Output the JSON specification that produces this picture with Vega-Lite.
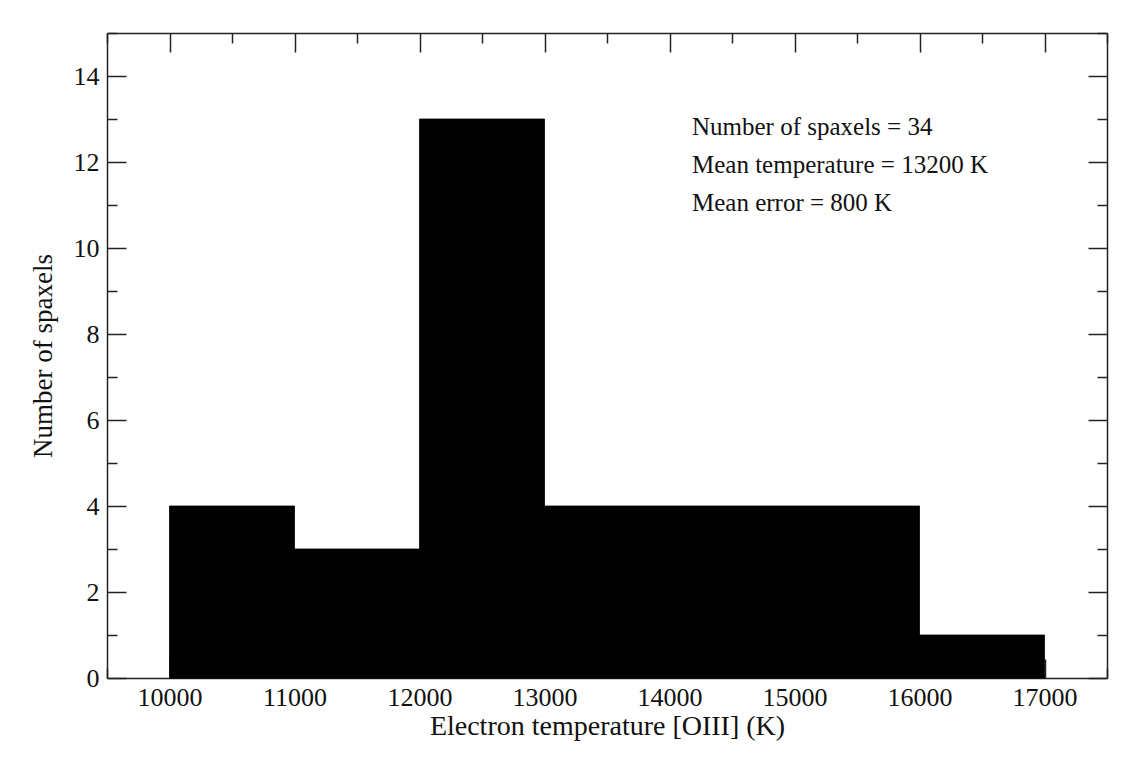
{
  "$schema": "https://vega.github.io/schema/vega-lite/v6.json",
  "width": 1000,
  "height": 645,
  "autosize": {"type": "none"},
  "padding": {"left": 107, "top": 33, "right": 22, "bottom": 90},
  "background": "white",
  "config": {
    "view": {"stroke": null},
    "font": "Liberation Serif",
    "axis": {
      "domainColor": "#222",
      "domainWidth": 1.5,
      "tickColor": "#222",
      "tickWidth": 1.5,
      "labelColor": "#111",
      "labelFont": "Liberation Serif",
      "labelFontSize": 26,
      "titleColor": "#111",
      "titleFont": "Liberation Serif",
      "titleFontSize": 28,
      "titleFontWeight": "normal",
      "grid": false
    }
  },
  "data": {
    "values": [
      {"t_lo": 10000, "t_hi": 11000, "count": 4},
      {"t_lo": 11000, "t_hi": 12000, "count": 3},
      {"t_lo": 12000, "t_hi": 13000, "count": 13},
      {"t_lo": 13000, "t_hi": 14000, "count": 4},
      {"t_lo": 14000, "t_hi": 15000, "count": 4},
      {"t_lo": 15000, "t_hi": 16000, "count": 4},
      {"t_lo": 16000, "t_hi": 17000, "count": 1}
    ]
  },
  "layer": [
    {
      "mark": {"type": "rect", "fill": "black", "stroke": "black", "strokeWidth": 0.8},
      "encoding": {
        "x": {
          "field": "t_lo",
          "type": "quantitative",
          "scale": {"domain": [9500, 17500], "nice": false, "zero": false},
          "axis": {
            "orient": "bottom",
            "title": "Electron temperature [OIII] (K)",
            "values": [9500, 10000, 10500, 11000, 11500, 12000, 12500, 13000, 13500, 14000, 14500, 15000, 15500, 16000, 16500, 17000, 17500],
            "format": "d",
            "labelExpr": "datum.value % 1000 === 0 && datum.value >= 10000 && datum.value <= 17000 ? datum.label : ''",
            "tickSize": {"condition": {"test": "datum.value % 1000 === 0", "value": -19}, "value": -10},
            "labelPadding": 25,
            "labelFlush": false,
            "titlePadding": 2
          }
        },
        "x2": {"field": "t_hi"},
        "y": {
          "field": "count",
          "type": "quantitative",
          "scale": {"domain": [0, 15], "nice": false},
          "axis": {
            "orient": "left",
            "title": "Number of spaxels",
            "titleFontSize": 27,
            "values": [0, 1, 2, 3, 4, 5, 6, 7, 8, 9, 10, 11, 12, 13, 14, 15],
            "labelExpr": "datum.value % 2 === 0 ? datum.label : ''",
            "tickSize": {"condition": {"test": "datum.value % 2 === 0", "value": -19}, "value": -10},
            "labelPadding": 27,
            "labelFlush": false,
            "titlePadding": 16
          }
        },
        "y2": {"datum": 0}
      }
    },
    {
      "data": {"values": [{"note": "summary"}]},
      "mark": {
        "type": "text",
        "align": "left",
        "baseline": "alphabetic",
        "font": "Liberation Serif",
        "fontSize": 25,
        "lineHeight": 38,
        "fill": "#111"
      },
      "encoding": {
        "x": {
          "datum": 14180,
          "type": "quantitative",
          "axis": {
            "orient": "top",
            "title": null,
            "values": [9500, 10000, 10500, 11000, 11500, 12000, 12500, 13000, 13500, 14000, 14500, 15000, 15500, 16000, 16500, 17000, 17500],
            "labels": false,
            "tickSize": {"condition": {"test": "datum.value % 1000 === 0", "value": -19}, "value": -10}
          }
        },
        "y": {
          "datum": 12.63,
          "type": "quantitative",
          "axis": {
            "orient": "right",
            "title": null,
            "values": [0, 1, 2, 3, 4, 5, 6, 7, 8, 9, 10, 11, 12, 13, 14, 15],
            "labels": false,
            "tickSize": {"condition": {"test": "datum.value % 2 === 0", "value": -19}, "value": -10}
          }
        },
        "text": {"value": ["Number of spaxels = 34", "Mean temperature = 13200 K", "Mean error = 800 K"]}
      }
    }
  ],
  "resolve": {"axis": {"x": "independent", "y": "independent"}}
}
